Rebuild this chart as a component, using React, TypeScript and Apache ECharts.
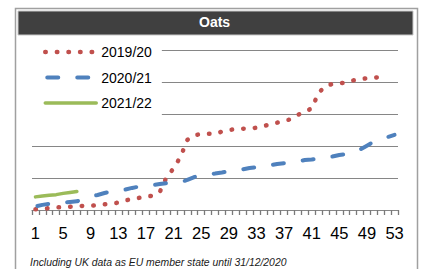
import React, { useEffect, useRef } from "react";
import * as echarts from "echarts";

const weeks = [
  "1", "2", "3", "4", "5", "6", "7", "8", "9", "10", "11", "12", "13", "14", "15", "16", "17", "18",
  "19", "20", "21", "22", "23", "24", "25", "26", "27", "28", "29", "30", "31", "32", "33", "34", "35",
  "36", "37", "38", "39", "40", "41", "42", "43", "44", "45", "46", "47", "48", "49", "50", "51", "52", "53",
];

const s2019 = [
  2, 3, 6, 8, 9, 10, 12, 13, 13, 15, 18, 20, 23, 30, 34, 38, 41, 45, 56, 103, 130, 166, 219, 234, 237,
  238, 238, 245, 250, 253, 254, 255, 257, 261, 269, 273, 278, 284, 297, 308, 317, 366, 387, 394, 396,
  398, 405, 408, 412, 413, 416, 418,
];

const s2020 = [
  11, 16, 19, 21, 23, 25, 27, 34, 42, 47, 53, 58, 61, 64, 69, 73, 77, 78, 81, 84, 85, 87, 94, 103, 108,
  112, 114, 117, 121, 124, 127, 131, 134, 137, 140, 144, 146, 149, 152, 156, 158, 161, 163, 167, 172,
  175, 178, 189, 201, 213, 221, 228, 235,
];

const s2021 = [41, 44, 46, 48, 52, 55, 58];

const seriesNames = ["2019/20", "2020/21", "2021/22"];
const yTicks = [0, 100, 200, 300, 400, 500];

const FONT = "'Liberation Sans', Arial, sans-serif";

const redLine = { color: "#C0504D", width: 4.5, type: [0.5, 11.1], cap: "round" };
const blueLine = { color: "#4F81BD", width: 4, type: [11, 19], cap: "round", dashOffset: -2 };
const greenLine = { color: "#9BBB59", width: 3.5, type: "solid", cap: "round" };

export default function App() {
  const ref = useRef<HTMLDivElement>(null);
  useEffect(() => {
    if (!ref.current) return;
    const chart = echarts.init(ref.current, undefined, { renderer: "svg" });
    chart.setOption({
      animation: false,
      backgroundColor: "#ffffff",
      title: [
        {
          text: "Oats",
          left: 199,
          top: 15,
          padding: 0,
          z: 10,
          textStyle: { color: "#ffffff", fontSize: 14, fontWeight: "bold", fontFamily: FONT },
        },
        {
          text: "Including UK data as EU member state until 31/12/2020",
          left: 30,
          top: 257,
          padding: 0,
          textStyle: { color: "#1a1a1a", fontSize: 10.4, fontStyle: "italic", fontWeight: "normal", fontFamily: FONT },
        },
      ],
      graphic: [
        {
          type: "rect",
          z: 0,
          shape: { x: 15.5, y: 8.5, width: 402, height: 275 },
          style: { fill: "none", stroke: "#a0a0a0", lineWidth: 1.5 },
        },
        {
          type: "rect",
          z: 1,
          shape: { x: 18, y: 11, width: 395, height: 24 },
          style: { fill: "#404040", stroke: "#c8c8c8", lineWidth: 1 },
        },
      ],
      legend: {
        orient: "vertical",
        left: 32,
        top: 40,
        padding: [5, 10, 8, 11],
        itemWidth: 51,
        itemHeight: 14,
        itemGap: 11.5,
        backgroundColor: "#ffffff",
        itemStyle: { opacity: 0 },
        textStyle: { fontSize: 14, color: "#000000", fontFamily: FONT },
        data: [
          { name: seriesNames[0], lineStyle: redLine },
          { name: seriesNames[1], lineStyle: blueLine },
          { name: seriesNames[2], lineStyle: greenLine },
        ],
      },
      grid: { left: 32, right: 23, top: 50, bottom: 59, containLabel: false },
      xAxis: {
        type: "category",
        data: weeks,
        boundaryGap: true,
        axisLine: { show: true, lineStyle: { color: "#868686", width: 1 } },
        axisTick: { show: true, interval: 0, length: 5, lineStyle: { color: "#7a7a7a", width: 1.3 } },
        axisLabel: { interval: 3, margin: 14, fontSize: 16.5, color: "#000000", fontFamily: FONT },
      },
      yAxis: {
        type: "value",
        min: yTicks[0],
        max: yTicks[yTicks.length - 1],
        interval: 100,
        axisLine: { show: false },
        axisTick: { show: false },
        axisLabel: { show: false },
        splitLine: { lineStyle: { color: "#868686", width: 1 } },
      },
      series: [
        {
          name: seriesNames[0],
          type: "line",
          data: s2019,
          symbol: "none",
          color: "#C0504D",
          lineStyle: redLine,
        },
        {
          name: seriesNames[1],
          type: "line",
          data: s2020,
          symbol: "none",
          color: "#4F81BD",
          lineStyle: blueLine,
        },
        {
          name: seriesNames[2],
          type: "line",
          data: s2021,
          symbol: "none",
          color: "#9BBB59",
          lineStyle: greenLine,
        },
      ],
    });
    return () => chart.dispose();
  }, []);
  return (
    <div
      ref={ref}
      style={{ position: "fixed", left: 0, top: 0, width: 421, height: 269 }}
    />
  );
}
